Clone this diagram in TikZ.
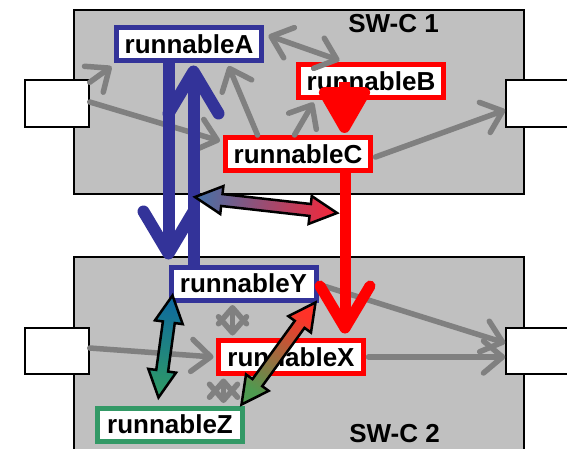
\documentclass[tikz,border=0pt]{standalone}
\usepackage{fontspec}
\setmainfont{Liberation Sans}
\usepackage{tikz}
\usetikzlibrary{arrows.meta,calc,positioning}
\definecolor{swcgrau}{HTML}{C0C0C0}
\definecolor{rblau}{HTML}{333399}
\definecolor{rgruen}{HTML}{339966}
\definecolor{rrot}{HTML}{FF0000}
\definecolor{vblau}{HTML}{4A6FA5}
\definecolor{vrot}{HTML}{F0283C}
\definecolor{vtuerkis}{HTML}{0E6A9E}
\definecolor{vgruen}{HTML}{2E9A66}
\definecolor{voliv}{HTML}{4E9A50}
\definecolor{vrotzwei}{HTML}{FF3228}
\tikzset{
  runnable/.style={draw=#1, fill=white, line width=5pt, minimum width=145pt, minimum height=33pt, inner sep=0pt, font=\fontsize{26}{30}\selectfont\bfseries},
  port/.style={draw=black, fill=white, line width=1.5pt, minimum height=46pt, inner sep=0pt},
  swc/.style={draw=black, fill=swcgrau, line width=1.5pt},
  grau/.style={draw=gray, line width=5.5pt, line cap=round, -{Straight Barb[length=19pt,width=32pt,round]}},
  grauzwei/.style={grau, {Straight Barb[length=16pt,width=28pt,round]}-{Straight Barb[length=16pt,width=28pt,round]}},
  dick/.style={draw=#1, line width=12pt, -{Straight Barb[length=42pt,width=50pt,round]}},
}
% Blockpfeil mit Spitzen an beiden Enden: Start, Ende, Farbe Start, Farbe Ende, Schattierungswinkel
\newcommand{\dblpfeil}[5]{%
  \shade[draw=black, line width=2.5pt, top color=#4, bottom color=#3, shading angle=#5]
    (#1) -- ($(#1)!27pt!(#2)!14pt!90:(#2)$) -- ($(#1)!27pt!(#2)!6pt!90:(#2)$)
    -- ($(#2)!27pt!(#1)!6pt!-90:(#1)$) -- ($(#2)!27pt!(#1)!14pt!-90:(#1)$)
    -- (#2) -- ($(#2)!27pt!(#1)!14pt!90:(#1)$) -- ($(#2)!27pt!(#1)!6pt!90:(#1)$)
    -- ($(#1)!27pt!(#2)!6pt!-90:(#2)$) -- ($(#1)!27pt!(#2)!14pt!-90:(#2)$) -- cycle;}
\begin{document}
\begin{tikzpicture}[x=1pt,y=-1pt]
\useasboundingbox (0,0) rectangle (567,449);
\clip (0,0) rectangle (567,449);
%Softwarekomponenten
\draw[swc] (74,10) rectangle (524,194);
\draw[swc] (74,257) rectangle (524,460);
\node[font=\fontsize{26}{30}\selectfont\bfseries] (swcEins) at (393.5,23.5) {SW-C 1};
\node[font=\fontsize{26}{30}\selectfont\bfseries] (swcZwei) at (394.5,434) {SW-C 2};
%Ports
\node[port, minimum width=64pt, minimum height=47pt] (pL1) at (57,103.5) {};
\node[port, minimum width=74pt, minimum height=47pt] (pR1) at (543,103.5) {};
\node[port, minimum width=64pt] (pL2) at (57,351) {};
\node[port, minimum width=74pt] (pR2) at (543,351) {};
%Runnables
\node[runnable=rblau] (rA) at (189,44.5) {runnableA};
\node[runnable=rrot] (rB) at (371,81) {runnableB};
\node[runnable=rrot] (rC) at (298,154) {runnableC};
\node[runnable=rblau] (rY) at (243.5,283.5) {runnableY};
\node[runnable=rrot] (rX) at (291,357) {runnableX};
\node[runnable=rgruen] (rZ) at (170,424.5) {runnableZ};
%graue Datenfluesse
\draw[grau] ($(pL1.north east)+(0,3)$) -- ($(rA.south west)+(-2.5,3)$);
\draw[grau] ($(pL1.east)+(0,-1.5)$) -- ($(rC.north west)+(-3,6)$);
\draw[grau] ($(rC.north west)+(34.5,0)$) -- ($(rA.south east)+(-35.5,2.5)$);
\draw[grau] ($(rC.north west)+(71.5,0)$) -- ($(rB.south west)+(17.5,2.5)$);
\draw[grau,{Straight Barb[length=19pt,width=32pt,round]}-{Straight Barb[length=19pt,width=32pt,round]}] ($(rA.north east)+(4.5,10)$) -- ($(rB.north west)+(43.5,-1.5)$);
\draw[grau] ($(rC.east)+(2.5,3)$) -- ($(pR1.west)+(0,6.5)$);
\draw[grau] ($(pL2.east)+(0,-3)$) -- ($(rX.west)+(-2.5,0)$);
\draw[grau] ($(rX.east)+(2.5,0)$) -- ($(pR2.west)+(0,6)$);
\draw[grau] ($(rY.east)+(2,1.5)$) -- ($(pR2.west)+(0,-8)$);
\draw[grauzwei] ($(rY.south west)+(64,2.5)$) -- ($(rX.north west)+(16.5,-2.5)$);
\draw[grauzwei] ($(rX.south west)+(7.5,2.5)$) -- ($(rZ.north west)+(128.5,-2.5)$);
%dicke Pfeile
\draw[dick=rblau] ($(rA.south west)+(54.5,0)$) -- ($(rY.north west)+(0,-5)$);
\draw[dick=rblau] ($(rY.north west)+(25,0)$) -- ($(rA.south west)+(79.5,2)$);
\draw[draw=rrot, fill=rrot, line width=11pt, -{Triangle[length=52pt,width=56pt,round]}] ($(rB.south west)+(48.5,-18)$) -- ($(rC.north west)+(121.5,-2)$);
\draw[dick=rrot, line width=11pt] ($(rC.south east)+(-28,0)$) -- ($(rX.north east)+(-21,-4.5)$);
%Blockpfeile mit Farbverlauf
\coordinate (tL) at (195,197);
\coordinate (tR) at (337,213);
\coordinate (yL) at ($(rY.south west)+(4,-7)$);
\coordinate (zL) at ($(rZ.north west)+(63.5,-8)$);
\coordinate (yR) at ($(rY.south east)+(-3,0)$);
\coordinate (zR) at ($(rZ.north east)+(-3.5,-1)$);
\dblpfeil{tL}{tR}{vblau}{vrot}{-96.5}
\dblpfeil{yL}{zL}{vtuerkis}{vgruen}{-187.5}
\dblpfeil{yR}{zR}{vrotzwei}{voliv}{-214.7}
\end{tikzpicture}
\end{document}
